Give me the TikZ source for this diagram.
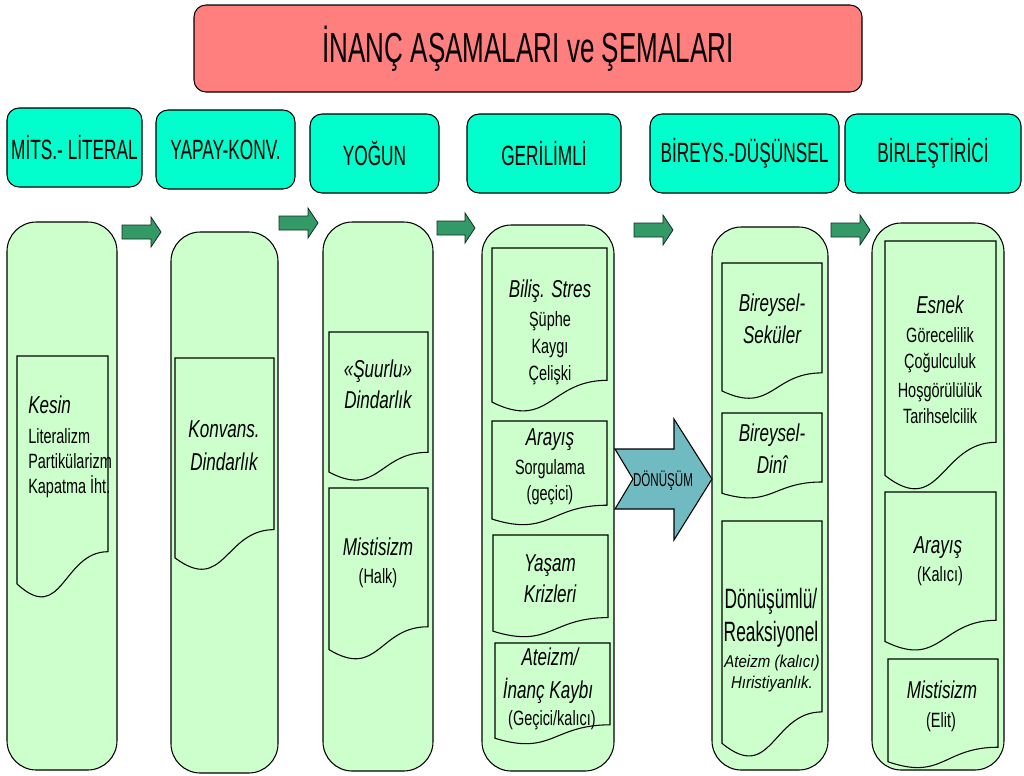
\documentclass[tikz,border=0pt]{standalone}
\usepackage{fontspec}
\setmainfont[FakeStretch=0.7]{Liberation Sans}
\newfontfamily\hdrfont[FakeStretch=0.62]{Liberation Sans}
\newfontfamily\smallitfont[FakeStretch=0.88]{Liberation Sans Italic}
\usepackage{tikz}
\usetikzlibrary{calc}

\definecolor{titlered}{HTML}{FF7F7F}
\definecolor{headcyan}{HTML}{00FFCC}
\definecolor{colgreen}{HTML}{CCFFCC}
\definecolor{arrgreen}{HTML}{339966}
\definecolor{arrteal}{HTML}{70BAC1}

\tikzset{
	ttl/.style={draw=black, line width=0.8pt, fill=titlered, rounded corners=9pt},
	hdr/.style={draw=black, line width=0.8pt, fill=headcyan, rounded corners=9pt},
	col/.style={draw=black, line width=0.8pt, fill=colgreen, rounded corners=22pt},
	docline/.style={draw=black, line width=0.8pt, fill=colgreen},
	sarr/.style={draw=black!70!arrgreen, line width=0.6pt, fill=arrgreen},
	hdrtext/.style={font=\hdrfont\fontsize{20.9}{24}\selectfont},
	ith/.style={font=\fontsize{18.3}{22}\selectfont\itshape, anchor=base, inner sep=0pt},
	its/.style={font=\smallitfont\fontsize{12.8}{15}\selectfont, anchor=base, inner sep=0pt},
	txt/.style={font=\fontsize{15.5}{19}\selectfont, anchor=base, inner sep=0pt},
	big/.style={font=\hdrfont\fontsize{21}{25}\selectfont, anchor=base, inner sep=0pt}
}

% document shape: x1, y1 (top), x2, y2 (full height)
\newcommand{\docbox}[4]{%
	\pgfmathsetmacro{\dh}{#4-#2}%
	\pgfmathsetmacro{\dm}{(#1+#3)/2}%
	\draw[docline] (#1,#2) -- (#3,#2) -- (#3,#2+0.802*\dh)
		.. controls (\dm,#2+0.802*\dh) and (\dm,#2+1.107*\dh) .. (#1,#2+0.934*\dh) -- cycle;}

% small block arrow: x1, x2 (tip), y (middle)
\newcommand{\stagearrow}[3]{%
	\draw[sarr] (#1,#3-7) -- (#2-10,#3-7) -- (#2-10,#3-15) -- (#2,#3)
		-- (#2-10,#3+15) -- (#2-10,#3+7) -- (#1,#3+7) -- cycle;}

\begin{document}
\begin{tikzpicture}[x=0.75pt,y=-0.75pt]
	\useasboundingbox (0,0) rectangle (1024,775);
	
	% title
	\draw[ttl] (194,5) rectangle node (title) {\hdrfont\fontsize{31.5}{36}\selectfont İNANÇ AŞAMALARI ve ŞEMALARI} (862,92);
	
	% stage headers
	\draw[hdr] (7,108) rectangle node[hdrtext] (mits) {MİTS.- LİTERAL} (142,187);
	\draw[hdr] (156,110) rectangle node[hdrtext] (yapay) {YAPAY-KONV.} (295,189);
	\draw[hdr] (310,114) rectangle node[hdrtext] (yogun) {YOĞUN} (439,193);
	\draw[hdr] (467,114) rectangle node[hdrtext] (geril) {GERİLİMLİ} (621,193);
	\draw[hdr] (650,114) rectangle node[hdrtext] (bireys) {BİREYS.-DÜŞÜNSEL} (839,193);
	\draw[hdr] (845,114) rectangle node[hdrtext] (birles) {BİRLEŞTİRİCİ} (1021,193);
	
	% columns
	\draw[col] (7,222) rectangle (117,770);
	\draw[col] (171,232) rectangle (278,773);
	\draw[col] (323,222) rectangle (433,771);
	\draw[col] (482,225) rectangle (614,771);
	\draw[col] (712,227) rectangle (828,770);
	\draw[col] (872,223) rectangle (1004,770);
	
	% documents
	\docbox{17}{356}{108}{600}
	\docbox{175}{358}{274}{572}
	\docbox{329}{332}{428}{482}
	\docbox{329}{488}{428}{661}
	\docbox{492}{248}{607}{413}
	\docbox{492}{421}{607}{526}
	\docbox{493}{535}{608}{638}
	\docbox{495}{643}{610}{745}
	\docbox{722}{263}{822}{400}
	\docbox{722}{413}{822}{499}
	\docbox{722}{521}{822}{759}
	\docbox{885}{241}{996}{492}
	\docbox{885}{492}{996}{652}
	\docbox{888}{659}{998}{769}
	
	% arrows between stages
	\stagearrow{122}{161}{232}
	\stagearrow{279}{318}{223}
	\stagearrow{437}{475}{228}
	\stagearrow{634}{673}{230}
	\stagearrow{831}{870}{230}
	
	\draw[draw=black, line width=0.8pt, fill=arrteal] (615,449) -- (674,449) -- (674,419) -- (712,479)
		-- (674,540) -- (674,509) -- (615,509) -- (633,479) -- cycle;
	\node[font=\hdrfont\fontsize{14}{16}\selectfont] (donusum) at (663,481) {DÖNÜŞÜM};
	
	% column 1
	\node[ith, anchor=base west] (kesin) at (28,413) {Kesin};
	\node[txt, anchor=base west] (literal) at (28,443) {Literalizm};
	\node[txt, anchor=base west] (partik) at (28,468) {Partikülarizm};
	\node[txt, anchor=base west] (kapatma) at (28,493) {Kapatma İht.};
	
	% column 2
	\node[ith] (konvans) at (224,437) {Konvans.};
	\node[ith] (dindar) at (224,470) {Dindarlık};
	
	% column 3
	\node[ith] (suurlu) at (378,377) {«Şuurlu»};
	\node[ith] (dindarb) at (378,408) {Dindarlık};
	\node[ith] (mistik) at (378,555) {Mistisizm};
	\node[txt] (halk) at (378,583) {(Halk)};
	
	% column 4
	\node[ith] (bilis) at (550,297) {Biliş. Stres};
	\node[txt] (suphe) at (550,326) {Şüphe};
	\node[txt] (kaygi) at (550,353) {Kaygı};
	\node[txt] (celiski) at (550,380) {Çelişki};
	\node[ith] (arayis) at (550,445) {Arayış};
	\node[txt] (sorgu) at (550,474) {Sorgulama};
	\node[txt] (gecici) at (550,500) {(geçici)};
	\node[ith] (yasam) at (550,571) {Yaşam};
	\node[ith] (kriz) at (550,602) {Krizleri};
	\node[ith] (ateizm) at (550,665) {Ateizm/};
	\node[ith] (kayip) at (548,698) {İnanç Kaybı};
	\node[txt] (gecicik) at (552,725) {(Geçici/kalıcı)};
	
	% column 5
	\node[ith] (seka) at (772,311) {Bireysel-};
	\node[ith] (sekb) at (772,343) {Seküler};
	\node[ith] (dina) at (772,441) {Bireysel-};
	\node[ith] (dinb) at (772,473) {Dinî};
	\node[big] (donml) at (771,608) {Dönüşümlü/};
	\node[big] (reaks) at (771,641) {Reaksiyonel};
	\node[its] (ateizmk) at (772,667) {Ateizm (kalıcı)};
	\node[its] (hiris) at (772,688) {Hıristiyanlık.};
	
	% column 6
	\node[ith] (esnek) at (940,313) {Esnek};
	\node[txt] (gorece) at (940,342) {Görecelilik};
	\node[txt] (cogul) at (940,368) {Çoğulculuk};
	\node[txt] (hosgor) at (940,397) {Hoşgörülülük};
	\node[txt] (tarih) at (940,423) {Tarihselcilik};
	\node[ith] (arayisk) at (938,553) {Arayış};
	\node[txt] (kalici) at (940,581) {(Kalıcı)};
	\node[ith] (mistike) at (942,698) {Mistisizm};
	\node[txt] (elit) at (941,727) {(Elit)};
	
\end{tikzpicture}
\end{document}
